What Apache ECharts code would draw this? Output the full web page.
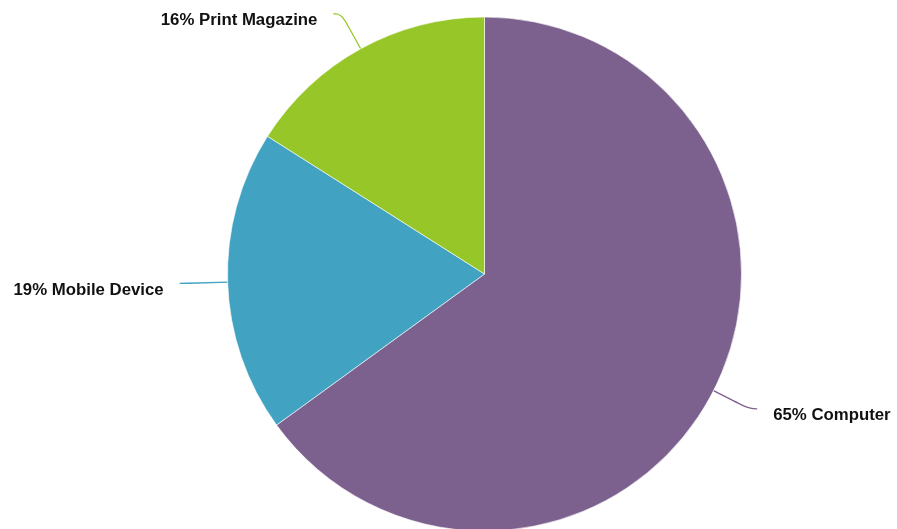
<!DOCTYPE html>
<html>
<head>
<meta charset="utf-8">
<script src="https://cdn.jsdelivr.net/npm/echarts@6/dist/echarts.min.js"></script>
<style>
  html, body { margin: 0; padding: 0; background: #fff; }
  #chart { width: 897px; height: 529px; }
</style>
</head>
<body>
<div id="chart"></div>
<script>
// Share of readers by device
const categories = ['Computer', 'Mobile Device', 'Print Magazine'];
const shares = [65, 19, 16];
const sliceColors = ['#7c608e', '#41a2c1', '#96c628'];

const chart = echarts.init(document.getElementById('chart'), null, { renderer: 'canvas' });

chart.setOption({
  animation: false,
  backgroundColor: '#ffffff',
  series: [{
    type: 'pie',
    center: [484.5, 274],
    radius: [0, 257],
    startAngle: 90,
    clockwise: true,
    avoidLabelOverlap: false,
    itemStyle: { borderColor: '#ffffff', borderWidth: 0.6 },
    label: {
      show: true,
      // leading empty line drops the text a little below the line end
      formatter: '\n{d}% {b}',
      fontFamily: 'Liberation Sans, Arial, sans-serif',
      fontWeight: 'bold',
      fontSize: 16.8,
      lineHeight: 14,
      color: '#111111',
      distanceToLabelLine: 16
    },
    labelLine: {
      show: true,
      length: 40,
      length2: 8,
      smooth: 0.5,
      lineStyle: { width: 1.3 }
    },
    emphasis: { disabled: true },
    data: categories.map((name, i) => ({
      name: name,
      value: shares[i],
      itemStyle: { color: sliceColors[i] }
    }))
  }]
});
</script>
</body>
</html>
